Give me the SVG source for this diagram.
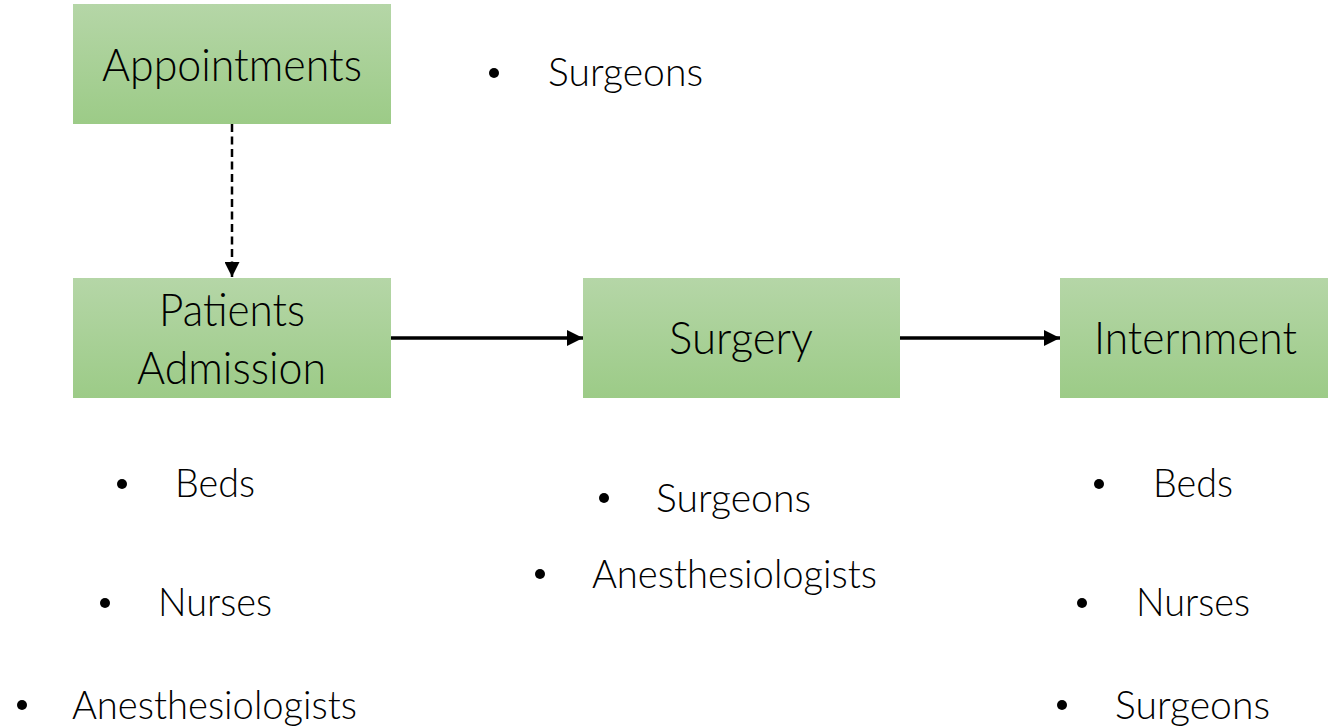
<svg xmlns="http://www.w3.org/2000/svg" width="1328" height="727" viewBox="0 0 1328 727">
  <defs>
    <linearGradient id="boxFill" x1="0" y1="0" x2="0" y2="1">
      <stop offset="0" stop-color="#b5d6a7"/>
      <stop offset="1" stop-color="#9ccb87"/>
    </linearGradient>
    <marker id="arrowSolid" viewBox="0 0 16 16" refX="16" refY="8" markerWidth="16" markerHeight="16" markerUnits="userSpaceOnUse" orient="auto">
      <path d="M0,0 L16,8 L0,16 Z" fill="#000"/>
    </marker>
    <marker id="arrowSmall" viewBox="0 0 15 15" refX="15" refY="7.5" markerWidth="15" markerHeight="15" markerUnits="userSpaceOnUse" orient="auto">
      <path d="M0,0 L15,7.5 L0,15 Z" fill="#000"/>
    </marker>
  </defs>
  <style>
    .box { fill: url(#boxFill); }
    .label { font-family: Lato, "Open Sans", "Liberation Sans", sans-serif; font-weight: 300; font-size: 46px; fill: #000; }
    .item { font-family: Lato, "Open Sans", "Liberation Sans", sans-serif; font-weight: 300; font-size: 39px; fill: #000; }
    .dot { fill: #000; }
    .link { stroke: #000; fill: none; }
  </style>
  <rect width="1328" height="727" fill="#fff"/>

  <!-- connectors -->
  <g id="connectors">
    <line class="link" x1="232" y1="124" x2="232" y2="277" stroke-width="2.5" stroke-dasharray="8,4.5" marker-end="url(#arrowSmall)"/>
    <line class="link" x1="391" y1="338" x2="583" y2="338" stroke-width="3.5" marker-end="url(#arrowSolid)"/>
    <line class="link" x1="900" y1="338" x2="1060" y2="338" stroke-width="3.5" marker-end="url(#arrowSolid)"/>
  </g>

  <!-- Appointments -->
  <g id="appointments">
    <rect class="box" x="73" y="4" width="318" height="120"/>
    <text class="label" x="102" y="81" textLength="260" lengthAdjust="spacingAndGlyphs">Appointments</text>
    <circle class="dot" cx="494" cy="73" r="5"/>
    <text class="item" x="548" y="86" textLength="155" lengthAdjust="spacingAndGlyphs">Surgeons</text>
  </g>

  <!-- Patients Admission -->
  <g id="patients-admission">
    <rect class="box" x="73" y="278" width="318" height="120"/>
    <text class="label" x="159" y="326" textLength="146" lengthAdjust="spacingAndGlyphs">Patients</text>
    <text class="label" x="137" y="384" textLength="189" lengthAdjust="spacingAndGlyphs">Admission</text>
    <circle class="dot" cx="122" cy="484" r="5"/>
    <text class="item" x="175" y="497" textLength="80" lengthAdjust="spacingAndGlyphs">Beds</text>
    <circle class="dot" cx="105" cy="603" r="5"/>
    <text class="item" x="158" y="616" textLength="114" lengthAdjust="spacingAndGlyphs">Nurses</text>
    <circle class="dot" cx="22" cy="705" r="5"/>
    <text class="item" x="72" y="719" textLength="285" lengthAdjust="spacingAndGlyphs">Anesthesiologists</text>
  </g>

  <!-- Surgery -->
  <g id="surgery">
    <rect class="box" x="583" y="278" width="317" height="120"/>
    <text class="label" x="669" y="354" textLength="144" lengthAdjust="spacingAndGlyphs">Surgery</text>
    <circle class="dot" cx="604" cy="498" r="5"/>
    <text class="item" x="656" y="512" textLength="155" lengthAdjust="spacingAndGlyphs">Surgeons</text>
    <circle class="dot" cx="540" cy="574" r="5"/>
    <text class="item" x="592" y="588" textLength="285" lengthAdjust="spacingAndGlyphs">Anesthesiologists</text>
  </g>

  <!-- Internment -->
  <g id="internment">
    <rect class="box" x="1060" y="278" width="268" height="120"/>
    <text class="label" x="1094" y="354" textLength="203" lengthAdjust="spacingAndGlyphs">Internment</text>
    <circle class="dot" cx="1099" cy="484" r="5"/>
    <text class="item" x="1153" y="497" textLength="80" lengthAdjust="spacingAndGlyphs">Beds</text>
    <circle class="dot" cx="1082" cy="603" r="5"/>
    <text class="item" x="1136" y="616" textLength="114" lengthAdjust="spacingAndGlyphs">Nurses</text>
    <circle class="dot" cx="1062" cy="705" r="5"/>
    <text class="item" x="1115" y="719" textLength="155" lengthAdjust="spacingAndGlyphs">Surgeons</text>
  </g>
</svg>
